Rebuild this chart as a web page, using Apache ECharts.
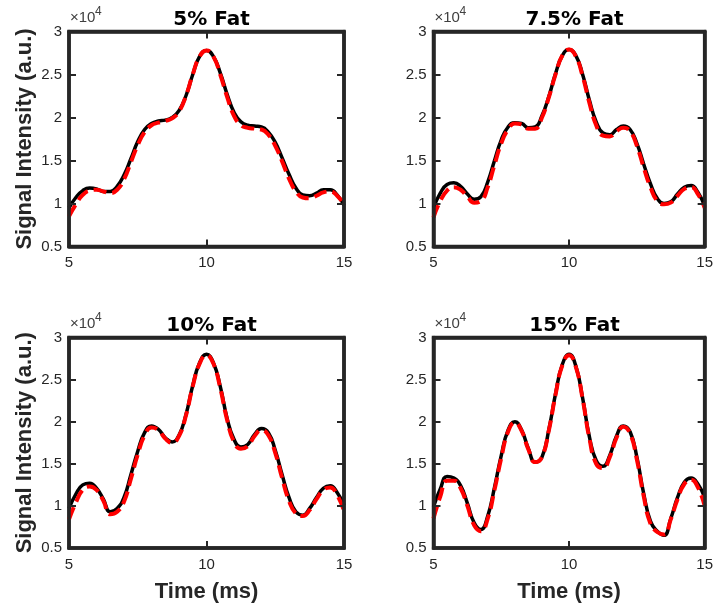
<!DOCTYPE html>
<html>
<head>
<meta charset="utf-8">
<script src="https://cdn.jsdelivr.net/npm/echarts@6/dist/echarts.min.js"></script>
<style>
  html, body { margin: 0; padding: 0; background: #fff; }
  #chart { width: 716px; height: 609px; }
</style>
</head>
<body>
<div id="chart"></div>
<script>
// Echo time axis (ms)
const timeMs = [5, 5.25, 5.5, 5.75, 6, 6.25, 6.5, 6.75, 7, 7.25, 7.5, 7.75, 8, 8.25, 8.5, 8.75,
  9, 9.25, 9.5, 9.75, 10, 10.25, 10.5, 10.75, 11, 11.25, 11.5, 11.75, 12, 12.25, 12.5, 12.75,
  13, 13.25, 13.5, 13.75, 14, 14.25, 14.5, 14.75, 15];

// Panel titles
const panelTitles = ['5% Fat', '7.5% Fat', '10% Fat', '15% Fat'];

// Signal intensity in units of 1e4 (a.u.): measured (solid black) and model (dashed red)
const measured5 = [0.95, 1.07, 1.15, 1.18, 1.17, 1.14, 1.14, 1.20, 1.33, 1.52, 1.72, 1.86, 1.93, 1.96, 1.97, 2.00,
  2.08, 2.25, 2.50, 2.71, 2.78, 2.71, 2.52, 2.27, 2.06, 1.95, 1.91, 1.90, 1.89, 1.83, 1.71, 1.53,
  1.34, 1.18, 1.10, 1.09, 1.12, 1.16, 1.16, 1.10, 0.98];
const model5 = [0.85, 0.99, 1.10, 1.15, 1.16, 1.14, 1.12, 1.16, 1.28, 1.48, 1.68, 1.83, 1.91, 1.94, 1.96, 1.99,
  2.07, 2.25, 2.50, 2.71, 2.78, 2.71, 2.50, 2.24, 2.02, 1.91, 1.88, 1.87, 1.86, 1.80, 1.67, 1.49,
  1.29, 1.14, 1.07, 1.06, 1.09, 1.13, 1.14, 1.09, 0.99];

const measured75 = [0.95, 1.12, 1.22, 1.24, 1.20, 1.11, 1.05, 1.08, 1.25, 1.50, 1.74, 1.89, 1.94, 1.93, 1.88, 1.89,
  2.02, 2.24, 2.51, 2.72, 2.79, 2.72, 2.50, 2.20, 1.95, 1.82, 1.80, 1.86, 1.90, 1.86, 1.70, 1.46,
  1.23, 1.06, 1.00, 1.02, 1.11, 1.19, 1.21, 1.13, 0.97];
const model75 = [0.84, 1.03, 1.15, 1.19, 1.16, 1.08, 1.01, 1.03, 1.19, 1.45, 1.70, 1.86, 1.93, 1.92, 1.87, 1.87,
  2.00, 2.23, 2.50, 2.72, 2.79, 2.71, 2.48, 2.17, 1.91, 1.79, 1.78, 1.84, 1.88, 1.84, 1.67, 1.42,
  1.19, 1.03, 0.99, 1.01, 1.09, 1.17, 1.19, 1.11, 0.95];

const measured10 = [0.97, 1.14, 1.25, 1.27, 1.21, 1.08, 0.93, 0.97, 1.10, 1.37, 1.65, 1.87, 1.95, 1.91, 1.81, 1.76,
  1.84, 2.08, 2.43, 2.70, 2.80, 2.70, 2.42, 2.04, 1.79, 1.70, 1.73, 1.85, 1.92, 1.87, 1.66, 1.37,
  1.10, 0.93, 0.89, 0.97, 1.10, 1.21, 1.24, 1.16, 1.01];
const model10 = [0.84, 1.04, 1.19, 1.23, 1.19, 1.06, 0.90, 0.93, 1.05, 1.32, 1.61, 1.84, 1.93, 1.90, 1.80, 1.75,
  1.83, 2.07, 2.42, 2.69, 2.79, 2.69, 2.40, 2.02, 1.76, 1.68, 1.71, 1.83, 1.90, 1.84, 1.63, 1.33,
  1.06, 0.91, 0.88, 0.95, 1.08, 1.19, 1.22, 1.13, 0.94];

const measured15 = [0.99, 1.20, 1.35, 1.33, 1.24, 1.03, 0.80, 0.72, 0.88, 1.22, 1.60, 1.90, 2.00, 1.90, 1.68, 1.52,
  1.58, 1.90, 2.33, 2.68, 2.80, 2.66, 2.28, 1.82, 1.54, 1.47, 1.60, 1.83, 1.95, 1.88, 1.58, 1.15,
  0.82, 0.70, 0.65, 0.85, 1.10, 1.28, 1.33, 1.26, 1.10];
const model15 = [0.85, 1.11, 1.30, 1.30, 1.21, 1.00, 0.77, 0.70, 0.85, 1.19, 1.57, 1.88, 1.99, 1.89, 1.67, 1.52,
  1.58, 1.89, 2.32, 2.67, 2.79, 2.65, 2.27, 1.80, 1.50, 1.45, 1.58, 1.81, 1.94, 1.86, 1.55, 1.12,
  0.79, 0.69, 0.66, 0.84, 1.08, 1.26, 1.31, 1.22, 1.00];

// Axis ranges and tick labels
const xTicks = [5, 10, 15];
const yTicks = [0.5, 1, 1.5, 2, 2.5, 3];

const measuredSets = [measured5, measured75, measured10, measured15];
const modelSets = [model5, model75, model10, model15];

// Subplot boxes (px)
const boxes = [
  { left: 69, top: 31.5, width: 275, height: 215 },
  { left: 433.5, top: 31.5, width: 272, height: 215 },
  { left: 69, top: 337.5, width: 275, height: 210.5 },
  { left: 433.5, top: 337.5, width: 272, height: 210.5 }
];

const FRAME = '#262626';
const TICKCOL = '#262626';
const SANS = '"Liberation Sans", Arial, Helvetica, sans-serif';

const grid = [], xAxis = [], yAxis = [], series = [], title = [], graphic = [];

boxes.forEach((b, i) => {
  grid.push({
    left: b.left, top: b.top, width: b.width, height: b.height,
    show: true, borderColor: FRAME, borderWidth: 3.5, backgroundColor: '#fff',
    containLabel: false
  });

  const frameLine = { show: true, onZero: false, lineStyle: { color: FRAME, width: 3.5 } };
  const tick = { show: true, inside: true, length: 7, lineStyle: { color: FRAME, width: 2 } };
  const bottomRow = i >= 2;
  const leftCol = i % 2 === 0;

  // bottom x axis with labels
  xAxis.push({
    type: 'value', gridIndex: i, position: 'bottom', z: 10,
    min: xTicks[0], max: xTicks[xTicks.length - 1], interval: xTicks[1] - xTicks[0],
    axisLine: frameLine, axisTick: tick, splitLine: { show: false },
    axisLabel: { color: TICKCOL, fontSize: 15, fontFamily: SANS, margin: 9 },
    name: bottomRow ? 'Time (ms)' : '', nameLocation: 'middle', nameGap: 33,
    nameTextStyle: { color: FRAME, fontSize: 22, fontWeight: 'bold', fontFamily: SANS }
  });
  // top mirror axis
  xAxis.push({
    type: 'value', gridIndex: i, position: 'top', z: 10,
    min: xTicks[0], max: xTicks[xTicks.length - 1], interval: xTicks[1] - xTicks[0],
    axisLine: frameLine, axisTick: tick, splitLine: { show: false },
    axisLabel: { show: false }
  });
  // left y axis with labels
  yAxis.push({
    type: 'value', gridIndex: i, position: 'left', z: 10,
    min: yTicks[0], max: yTicks[yTicks.length - 1], interval: yTicks[1] - yTicks[0],
    axisLine: frameLine, axisTick: tick, splitLine: { show: false },
    axisLabel: { color: TICKCOL, fontSize: 15, fontFamily: SANS, margin: 7 },
    name: leftCol ? 'Signal Intensity (a.u.)' : '', nameLocation: 'middle', nameGap: 33, nameRotate: 90,
    nameTextStyle: { color: FRAME, fontSize: 22, fontWeight: 'bold', fontFamily: SANS }
  });
  // right mirror axis
  yAxis.push({
    type: 'value', gridIndex: i, position: 'right', z: 10,
    min: yTicks[0], max: yTicks[yTicks.length - 1], interval: yTicks[1] - yTicks[0],
    axisLine: frameLine, axisTick: tick, splitLine: { show: false },
    axisLabel: { show: false }
  });

  const meas = measuredSets[i].map((v, k) => [timeMs[k], v]);
  const mod = modelSets[i].map((v, k) => [timeMs[k], v]);

  series.push({
    type: 'line', xAxisIndex: 2 * i, yAxisIndex: 2 * i, data: meas,
    smooth: 0.5, showSymbol: false, z: 3, animation: false,
    lineStyle: { color: '#000', width: 3.5 }
  });
  series.push({
    type: 'line', xAxisIndex: 2 * i, yAxisIndex: 2 * i, data: mod,
    smooth: 0.5, showSymbol: false, z: 4, animation: false,
    lineStyle: { color: '#ff0000', width: 4, type: [13, 6] }
  });

  title.push({
    text: panelTitles[i],
    left: b.left + b.width / 2, top: b.top - 27, textAlign: 'center',
    textStyle: { color: '#000', fontSize: 20, fontWeight: 'bold', fontFamily: '"DejaVu Sans", sans-serif' }
  });

  // axis exponent label
  graphic.push({
    type: 'text', left: b.left + 1, top: b.top - 21, z: 20,
    style: { text: '×10', fill: '#404040', fontSize: 15, fontFamily: 'Liberation Sans' }
  });
  graphic.push({
    type: 'text', left: b.left + 26, top: b.top - 26, z: 20,
    style: { text: '4', fill: '#404040', fontSize: 12, fontFamily: 'Liberation Sans' }
  });
});

const chart = echarts.init(document.getElementById('chart'), null, { renderer: 'canvas' });
chart.setOption({
  backgroundColor: '#fff',
  animation: false,
  title, grid, xAxis, yAxis, series, graphic
});
</script>
</body>
</html>
